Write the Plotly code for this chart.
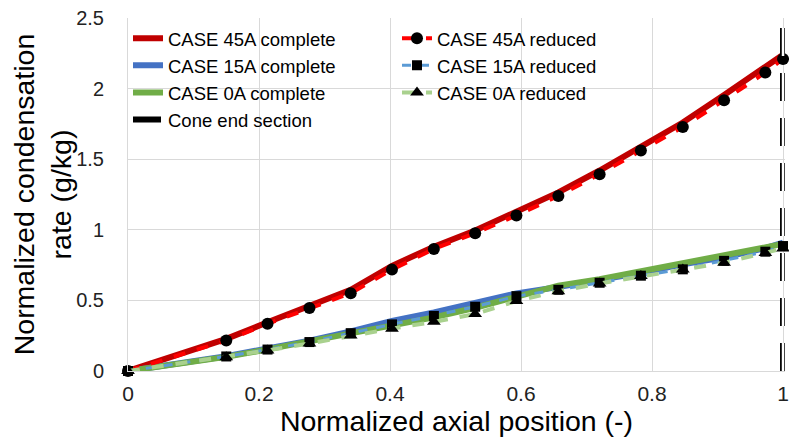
import plotly.graph_objects as go

x_pos = [0, 0.15, 0.213, 0.277, 0.34, 0.403, 0.467, 0.53, 0.593, 0.657, 0.72, 0.783, 0.847, 0.91, 0.973, 1.0]

c45_complete = [0, 0.228, 0.345, 0.46, 0.575, 0.745, 0.88, 0.995, 1.125, 1.265, 1.42, 1.59, 1.76, 1.955, 2.15, 2.24]
c15_complete = [0, 0.105, 0.16, 0.215, 0.28, 0.355, 0.415, 0.48, 0.55, 0.595, 0.64, 0.695, 0.755, 0.805, 0.87, 0.91]
c0_complete = [0, 0.10, 0.153, 0.21, 0.268, 0.325, 0.38, 0.448, 0.53, 0.605, 0.65, 0.705, 0.765, 0.815, 0.88, 0.90]

c45_reduced = [0, 0.216, 0.334, 0.446, 0.551, 0.718, 0.864, 0.976, 1.101, 1.240, 1.394, 1.561, 1.728, 1.918, 2.114, 2.21]
c15_reduced = [0, 0.103, 0.152, 0.205, 0.268, 0.33, 0.39, 0.455, 0.53, 0.575, 0.625, 0.675, 0.72, 0.78, 0.845, 0.885]
c0_reduced = [0, 0.098, 0.146, 0.195, 0.251, 0.30, 0.348, 0.404, 0.495, 0.565, 0.62, 0.672, 0.718, 0.767, 0.836, 0.868]

cone_x = [1, 1]
cone_y = [0, 2.5]

FONT = "Liberation Sans, Arial, sans-serif"

fig = go.Figure()

fig.add_trace(go.Scatter(x=x_pos, y=c45_complete, mode="lines", name="CASE 45A complete",
                         line=dict(color="#C00000", width=6), legendrank=1))
fig.add_trace(go.Scatter(x=x_pos, y=c15_complete, mode="lines", name="CASE 15A complete",
                         line=dict(color="#4472C4", width=6), legendrank=3))
fig.add_trace(go.Scatter(x=x_pos, y=c0_complete, mode="lines", name="CASE 0A complete",
                         line=dict(color="#70AD47", width=6), legendrank=5))

fig.add_trace(go.Scatter(x=x_pos, y=c45_reduced, mode="lines+markers", name="CASE 45A reduced",
                         line=dict(color="#FF0000", width=4, dash="dash"),
                         marker=dict(symbol="circle", size=12, color="black"), legendrank=2,
                         cliponaxis=False))
fig.add_trace(go.Scatter(x=x_pos, y=c15_reduced, mode="lines+markers", name="CASE 15A reduced",
                         line=dict(color="#5B9BD5", width=3, dash="dash"),
                         marker=dict(symbol="square", size=10, color="black"), legendrank=4,
                         cliponaxis=False))
fig.add_trace(go.Scatter(x=x_pos, y=c0_reduced, mode="lines+markers", name="CASE 0A reduced",
                         line=dict(color="#A9D18E", width=4, dash="dash"),
                         marker=dict(symbol="triangle-up", size=12, color="black"), legendrank=6,
                         cliponaxis=False))

fig.add_trace(go.Scatter(x=cone_x, y=cone_y, mode="lines", name="Cone end section",
                         line=dict(color="black", width=6, dash="28px,17px"), legendrank=7,
                         cliponaxis=False))
fig.add_trace(go.Scatter(x=cone_x, y=cone_y, mode="lines", showlegend=False,
                         line=dict(color="white", width=2.5, dash="28px,17px"),
                         cliponaxis=False))

fig.update_layout(
    width=781, height=431,
    margin=dict(l=120, r=4, t=10, b=68, autoexpand=False),
    paper_bgcolor="white", plot_bgcolor="white",
    font=dict(family=FONT, color="black"),
    showlegend=True,
    legend=dict(orientation="h", x=0, y=0.995, xanchor="left", yanchor="top",
                font=dict(size=18.5, family=FONT, color="black"),
                entrywidth=224, entrywidthmode="pixels",
                bgcolor="rgba(0,0,0,0)", traceorder="normal"),
    xaxis=dict(range=[0, 1.003], dtick=0.2, tick0=0, showgrid=True, gridcolor="#D9D9D9", gridwidth=1,
               showline=True, linecolor="#D9D9D9", zeroline=False, ticklabeloverflow="allow",
               automargin=False,
               tickfont=dict(size=21, family=FONT, color="#222"), ticks="", ticklabelstandoff=4,
               title=dict(text="Normalized axial position (-)", font=dict(size=28.5, family=FONT), standoff=6)),
    yaxis=dict(range=[0, 2.5], dtick=0.5, tick0=0, showgrid=True, gridcolor="#D9D9D9", gridwidth=1,
               showline=True, linecolor="#D9D9D9", zeroline=False, ticklabeloverflow="allow",
               automargin=False,
               tickfont=dict(size=20, family=FONT, color="#222"), ticks="", ticklabelstandoff=19,
               title=dict(text="Normalized condensation<br>rate (g/kg)", font=dict(size=28.5, family=FONT), standoff=9)),
)

fig.write_html("out.html")
